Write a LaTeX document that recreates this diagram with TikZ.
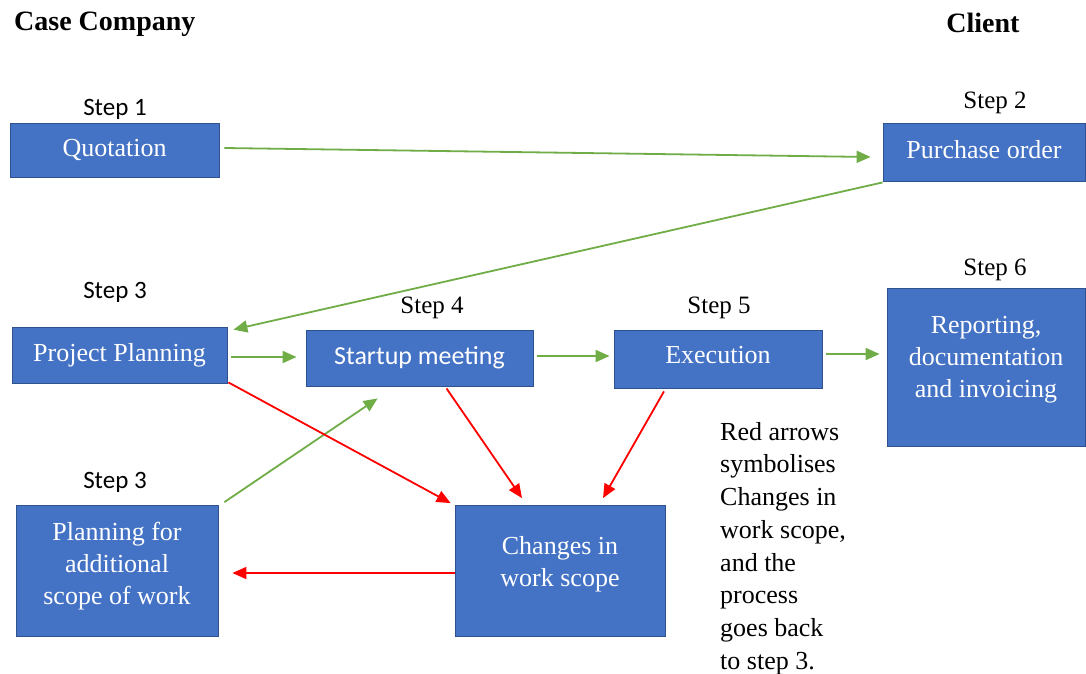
\documentclass[tikz,border=0pt]{standalone}
\usepackage{fontspec}
\setmainfont{Liberation Serif}
\newfontfamily\calfont{Carlito}
\usetikzlibrary{arrows.meta,calc}
\definecolor{boxblue}{HTML}{4472C4}
\definecolor{boxedge}{HTML}{2F528F}
\definecolor{arrgreen}{HTML}{70AD47}
\definecolor{arrred}{HTML}{FF0000}
\tikzset{
  stepbox/.style={rectangle, fill=boxblue, draw=boxedge, line width=0.8pt, text=white, align=center, inner sep=0pt, font=\fontsize{26}{32}\selectfont},
  steplabel/.style={inner sep=0pt, font=\fontsize{25}{30}\selectfont},
  calsteplabel/.style={inner sep=0pt, font=\calfont\fontsize{25}{30}\selectfont},
  heading/.style={inner sep=0pt, font=\bfseries\fontsize{28}{34}\selectfont},
  garrow/.style={draw=arrgreen, line width=1.8pt, -{Triangle[length=14pt,width=12pt]}},
  rarrow/.style={draw=arrred, line width=1.8pt, -{Triangle[length=14pt,width=12pt]}},
}
\begin{document}
\begin{tikzpicture}[x=1pt,y=-1pt]
\useasboundingbox[fill=white] (0,0) rectangle (1086,673);
% headings
\node[heading, anchor=west] (hcase) at (14,24) {Case Company};
\node[heading] (hclient) at (983,23) {Client};
% boxes
\node[stepbox, minimum width=209pt, minimum height=54pt] (q) at (114.5,150) {Quotation};
\node[stepbox, minimum width=202pt, minimum height=58pt, text depth=6pt] (po) at (984,152) {Purchase order};
\node[stepbox, minimum width=215pt, minimum height=56pt] (pp) at (119.5,355) {Project Planning};
\node[stepbox, minimum width=227pt, minimum height=56pt, font=\calfont\fontsize{26}{32}\selectfont] (sm) at (419.5,358) {Startup meeting};
\node[stepbox, minimum width=208pt, minimum height=58pt, text depth=8pt] (ex) at (718,359) {Execution};
\node[stepbox, minimum width=198pt, minimum height=158pt, text depth=20pt] (rep) at (986,367) {Reporting,\\documentation\\and invoicing};
\node[stepbox, minimum width=202pt, minimum height=131pt, text depth=15.5pt] (pa) at (117,571) {Planning for\\additional\\scope of work};
\node[stepbox, minimum width=210pt, minimum height=131pt, text depth=19.5pt] (ch) at (560,571) {Changes in\\work scope};
% step labels
\node[calsteplabel] (s1) at (115,109) {Step 1};
\node[steplabel] (s2) at (995,103) {Step 2};
\node[calsteplabel] (s3a) at (115,292) {Step 3};
\node[steplabel] (s4) at (432,308) {Step 4};
\node[steplabel] (s5) at (719,308) {Step 5};
\node[steplabel] (s6) at (995,270) {Step 6};
\node[calsteplabel] (s3b) at (115,482) {Step 3};
% note
\node[anchor=north west, inner sep=0pt, align=left, font=\fontsize{26}{32.7}\selectfont] (note) at (720,422)
  {Red arrows\\symbolises\\Changes in\\work scope,\\and the\\process\\goes back\\to step 3.};
% green arrows
\draw[garrow] ($(q.east)+(5,-2)$) -- ($(po.west)+(-12,5)$);
\draw[garrow] ($(po.south west)+(0,1)$) -- ($(pp.north east)+(6,3)$);
\draw[garrow] ($(pp.east)+(4,2)$) -- ($(sm.west)+(-9,-1)$);
\draw[garrow] ($(sm.east)+(4,-2)$) -- ($(ex.west)+(-4,-3)$);
\draw[garrow] ($(ex.east)+(4,-5)$) -- ($(rep.west)+(-7,-13)$);
\draw[garrow] ($(pa.north east)+(6,-3)$) -- ($(sm.south west)+(72,12)$);
% red arrows
\draw[rarrow] ($(pp.south east)+(1,-1)$) -- ($(ch.north west)+(-4,-2)$);
\draw[rarrow] ($(sm.south)+(27,2)$) -- ($(ch.north)+(-38,-7)$);
\draw[rarrow] ($(ex.south)+(-54,3)$) -- ($(ch.north)+(43,-7)$);
\draw[rarrow] ($(ch.west)+(0,2)$) -- ($(pa.east)+(14,2)$);
\end{tikzpicture}
\end{document}
